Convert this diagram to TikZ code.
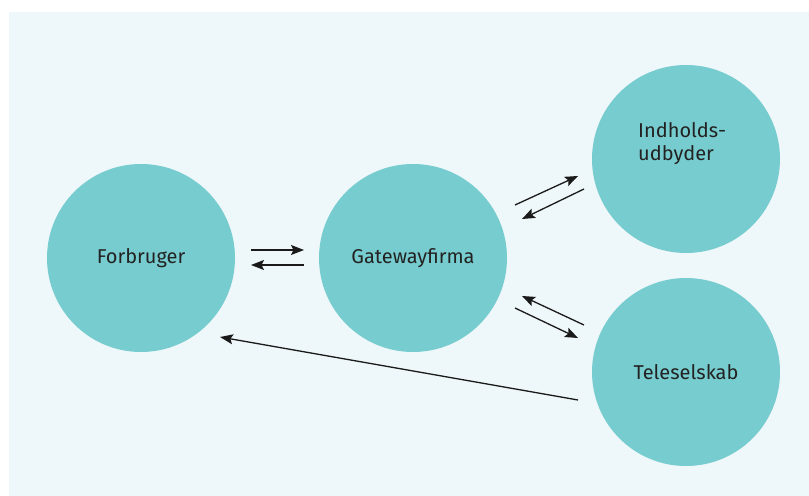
\documentclass[tikz,border=0pt]{standalone}
\usepackage{fontspec}
\setmainfont{Fira Sans}
\usetikzlibrary{arrows.meta}
\definecolor{bgc}{HTML}{EEF7F9}
\definecolor{circc}{HTML}{77CCCF}
\definecolor{txtc}{HTML}{222222}
\definecolor{arrc}{HTML}{1A1A1A}
\begin{document}
\begin{tikzpicture}[x=1bp,y=-1bp,
  actor/.style={circle,fill=circc,minimum size=188bp,inner sep=0pt,text=txtc,
    font=\fontsize{20bp}{24bp}\selectfont,align=center},
  flow/.style={draw=arrc,line width=1.3bp,-{Stealth[length=13bp,width=10bp,inset=2.5bp]}}]
\useasboundingbox (0,0) rectangle (809,496);
\fill[white] (0,0) rectangle (809,496);
\fill[bgc] (9,12) rectangle (809,496);
\node[actor] (forb) at (141,258) {Forbruger};
\node[actor] (gate) at (413,258) {Gatewayfirma};
\node[actor] (indh) at (686,159) {};
\node[text=txtc,font=\fontsize{20bp}{23bp}\selectfont,align=left,anchor=north west,inner sep=0pt] (indhtxt) at (638,122) {Indholds-\\udbyder};
\node[actor] (tele) at (686,372) {Teleselskab};
\coordinate (a1) at (251,250); \coordinate (a2) at (304,250);
\coordinate (b1) at (304,265); \coordinate (b2) at (251,265);
\coordinate (c1) at (515,205); \coordinate (c2) at (578,176);
\coordinate (d1) at (584,189); \coordinate (d2) at (522,219);
\coordinate (e1) at (584,325); \coordinate (e2) at (522,296);
\coordinate (f1) at (515,308); \coordinate (f2) at (578,338);
\coordinate (g1) at (578,400); \coordinate (g2) at (220,337);
\draw[flow] (a1) -- (a2);
\draw[flow] (b1) -- (b2);
\draw[flow] (c1) -- (c2);
\draw[flow] (d1) -- (d2);
\draw[flow] (e1) -- (e2);
\draw[flow] (f1) -- (f2);
\draw[flow] (g1) -- (g2);
\end{tikzpicture}
\end{document}
